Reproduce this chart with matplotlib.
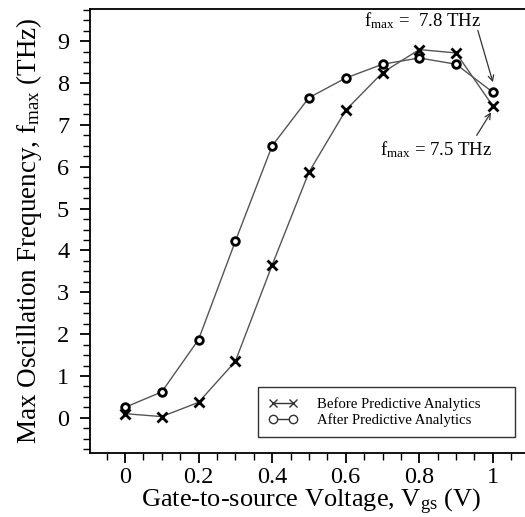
import matplotlib
matplotlib.use("Agg")
import matplotlib.pyplot as plt
from matplotlib.ticker import MultipleLocator

vgs = [0.0, 0.1, 0.2, 0.3, 0.4, 0.5, 0.6, 0.7, 0.8, 0.9, 1.0]
before = [0.10, 0.03, 0.37, 1.35, 3.65, 5.87, 7.35, 8.25, 8.80, 8.72, 7.45]
after = [0.25, 0.62, 1.87, 4.22, 6.50, 7.65, 8.12, 8.45, 8.60, 8.45, 7.78]
xticks = [0, 0.2, 0.4, 0.6, 0.8, 1]
xticklabels = ["0", "0.2", "0.4", "0.6", "0.8", "1"]
yticks = list(range(0, 10))

plt.rcParams['font.family'] = ['Liberation Serif', 'DejaVu Serif']
plt.rcParams['mathtext.fontset'] = 'custom'
plt.rcParams['mathtext.rm'] = 'Liberation Serif'
plt.rcParams['mathtext.it'] = 'Liberation Serif'

fig = plt.figure(figsize=(5.25, 5.17), dpi=100)
ax = fig.add_axes([90/525, 1-453/517, (526-90)/525, (453-9)/517])

ax.plot(vgs, before, color='#555555', lw=1.0, marker='x', ms=7, mew=2.0,
        mec='black', label='Before Predictive Analytics', zorder=3)
ax.plot(vgs, after, color='#555555', lw=1.0, marker='o', ms=5.5, mew=2.0,
        mec='black', mfc='white', label='After Predictive Analytics', zorder=3)

ax.set_xlim(-0.095, 1.09)
ax.set_ylim(-0.84, 9.77)
ax.set_xticks(xticks)
ax.set_xticklabels(xticklabels)
ax.set_yticks(yticks)
ax.xaxis.set_minor_locator(MultipleLocator(0.05))
ax.yaxis.set_minor_locator(MultipleLocator(0.25))
ax.tick_params(which='major', direction='out', length=7, width=1.3, labelsize=17.5, pad=3)
ax.tick_params(which='major', axis='y', pad=8)
ax.tick_params(which='minor', direction='out', length=5, width=1.0)
ax.spines['right'].set_visible(False)
for s in ['left', 'bottom', 'top']:
    ax.spines[s].set_linewidth(1.3)

fig.text(311/525, (517-507)/517, r'Gate-to-source Voltage, V$_{\mathrm{gs}}$ (V)',
         fontsize=19, ha='center', va='baseline')
ax.set_ylabel(r'Max Oscillation Frequency, f$_{\mathrm{max}}$ (THz)', fontsize=19.5, labelpad=9)

arrow = dict(arrowstyle='->', color='#333333', lw=0.9, shrinkA=0, shrinkB=0)
ax.text(0.81, 9.48, r'f$_{\mathrm{max}}$ =  7.8 THz', fontsize=13.5, ha='center', va='center')
ax.annotate('', xy=(1.0, 8.02), xytext=(0.959, 9.26), arrowprops=arrow)
ax.text(0.845, 6.40, r'f$_{\mathrm{max}}$ = 7.5 THz', fontsize=13.5, ha='center', va='center')
ax.annotate('', xy=(0.995, 7.30), xytext=(0.956, 6.75), arrowprops=arrow)

leg = ax.legend(loc='lower left', bbox_to_anchor=(0.385, 0.036, 0.589, 0.11), mode='expand',
                borderaxespad=0, fontsize=10.6,
                frameon=True, fancybox=False, edgecolor='black', numpoints=2,
                handlelength=2.0, borderpad=0.7, labelspacing=0.1, handletextpad=1.3)
leg.get_frame().set_linewidth(1.0)
for h in leg.legend_handles:
    h.set_markeredgewidth(1.0)
    h.set_markeredgecolor('#333333')
    h.set_color('#333333')
    h.set_markersize(6)

fig.savefig('out.png', dpi=100)
